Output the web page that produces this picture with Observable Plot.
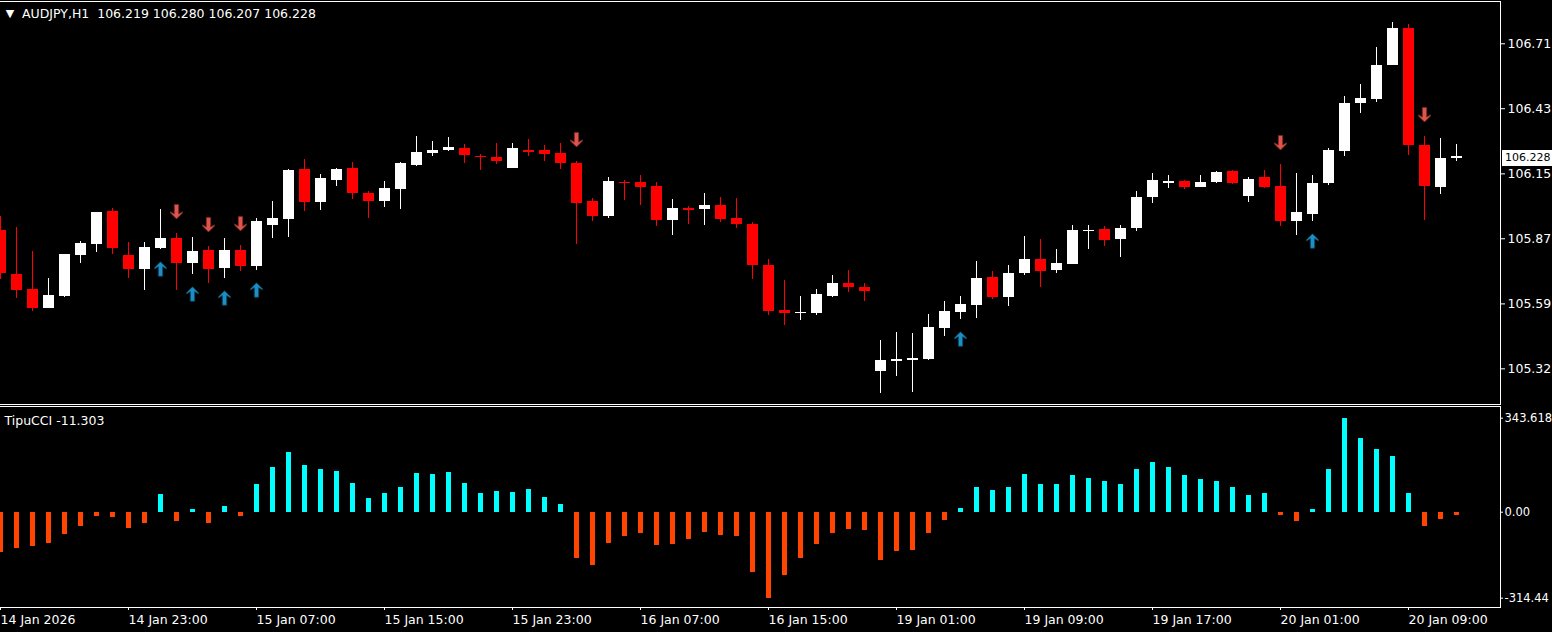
<!DOCTYPE html>
<html><head><meta charset="utf-8">
<script src="https://cdn.jsdelivr.net/npm/d3@7"></script>
<script src="https://cdn.jsdelivr.net/npm/@observablehq/plot@0.6"></script>
<style>
html,body{margin:0;padding:0;background:#000;overflow:hidden;}
#wrap{position:relative;width:1552px;height:632px;}
#wrap svg{display:block;}
#price{position:absolute;left:1502px;width:50px;height:16px;background:#fff;color:#000;font:11px "DejaVu Sans";line-height:16px;padding-left:3px;box-sizing:border-box;white-space:nowrap;overflow:hidden;}
</style></head><body><div id="wrap"></div>
<script>
const symbolName = "AUDJPY,H1";
const indicatorName = "TipuCCI";
const xLabels = ["14 Jan 2026","14 Jan 23:00","15 Jan 07:00","15 Jan 15:00","15 Jan 23:00","16 Jan 07:00","16 Jan 15:00","19 Jan 01:00","19 Jan 09:00","19 Jan 17:00","20 Jan 01:00","20 Jan 09:00"];
const open = [105.912,105.724,105.660,105.580,105.631,105.807,105.854,105.994,105.805,105.747,
105.837,105.878,105.772,105.827,105.751,105.827,105.760,105.934,105.961,106.174,
106.034,106.127,106.178,106.071,106.038,106.089,106.192,106.243,106.256,106.264,
106.231,106.225,106.179,106.255,106.255,106.242,106.199,106.037,105.974,106.118,
106.118,106.101,105.957,106.007,106.004,106.020,105.964,105.938,105.762,105.570,
105.558,105.558,105.631,105.685,105.668,105.310,105.353,105.357,105.361,105.494,
105.562,105.593,105.711,105.627,105.730,105.788,105.742,105.768,105.908,105.917,
105.875,105.922,106.055,106.115,106.122,106.098,106.119,106.165,106.059,106.139,
106.101,105.952,105.982,106.115,106.252,106.458,106.475,106.620,106.778,106.276,
106.098,106.219];
const high = [105.972,105.925,105.822,105.707,105.810,105.865,105.990,106.007,105.861,105.861,
106.002,105.900,105.882,105.844,105.878,105.848,105.964,106.037,106.174,106.217,
106.152,106.178,106.204,106.079,106.122,106.204,106.315,106.294,106.311,106.281,
106.239,106.285,106.285,106.302,106.276,106.285,106.208,106.050,106.139,106.127,
106.148,106.118,106.045,106.015,106.071,106.054,106.050,105.947,105.788,105.698,
105.630,105.660,105.720,105.741,105.685,105.441,105.476,105.471,105.553,105.608,
105.630,105.780,105.737,105.762,105.887,105.874,105.831,105.934,105.934,105.930,
105.934,106.079,106.156,106.148,106.127,106.148,106.165,106.169,106.139,106.169,
106.195,106.156,106.148,106.264,106.486,106.538,106.696,106.803,106.795,106.315,
106.306,106.280];
const low = [105.701,105.622,105.567,105.578,105.627,105.772,105.819,105.811,105.708,105.657,
105.832,105.657,105.725,105.687,105.708,105.738,105.742,105.879,105.884,105.995,
105.999,106.102,106.046,105.965,106.012,106.004,106.188,106.231,106.252,106.201,
106.171,106.196,106.179,106.231,106.209,106.175,105.854,105.952,105.965,106.042,
106.021,105.931,105.892,105.939,105.935,105.948,105.922,105.704,105.550,105.507,
105.528,105.550,105.627,105.648,105.610,105.213,105.288,105.220,105.357,105.460,
105.532,105.537,105.618,105.588,105.721,105.670,105.730,105.768,105.832,105.845,
105.798,105.909,106.029,106.094,106.089,106.098,106.115,106.109,106.034,106.094,
105.931,105.892,105.952,106.106,106.231,106.415,106.462,106.620,106.235,105.957,
106.068,106.207];
const close = [105.730,105.657,105.580,105.634,105.810,105.857,105.990,105.837,105.747,105.840,
105.878,105.772,105.822,105.747,105.827,105.760,105.951,105.964,106.169,106.034,
106.135,106.174,106.072,106.038,106.092,106.199,106.246,106.255,106.268,106.235,
106.226,106.209,106.264,106.248,106.239,106.201,106.029,105.974,106.122,106.114,
106.098,105.957,106.007,105.999,106.020,105.961,105.939,105.764,105.567,105.558,
105.562,105.638,105.685,105.670,105.652,105.356,105.360,105.364,105.497,105.565,
105.595,105.707,105.627,105.728,105.788,105.738,105.771,105.912,105.912,105.871,
105.921,106.054,106.127,106.124,106.098,106.118,106.161,106.115,106.131,106.098,
105.952,105.990,106.114,106.255,106.456,106.478,106.619,106.778,106.278,106.102,
106.221,106.228];
const cci = [-148.6,-134,-127,-116,-83,-54,-17,-21,-61,-43,
66,-35,11,-40,19.5,-17,100,162,220,172,
155,150,104,49,67,89,140,136,144,104,
67,74,71,82,52,27,-171,-196,-116,-90,
-79,-123,-119,-101,-76,-87,-90,-222,-314.442,-233,
-171,-119,-79,-65,-68,-178,-145,-141,-79,-32,
15,89,78,89,136,100,100,133,122,111,
100,155,180,162,133,118,111,89,60,67,
-13,-35,11,155,343.618,270,228,202,67,-54,
-28,-11.303];
const arrowUp = [10,12,14,16,60,82];
const arrowDown = [11,13,15,36,80,89];
const priceTicks = [106.712,106.434,106.155,105.877,105.598,105.320];
const cciTicks = [343.618,0,-314.442];
const cciTickLabels = ["343.618","0.00","-314.44"];

const candles = open.map((o,i)=>({i, open:o, high:high[i], low:low[i], close:close[i], col: close[i] >= o ? "#ffffff" : "#ff0000"}));
const bars = cci.map((v,i)=>({i, v, col: v >= 0 ? "#00ffff" : "#ff4500"}));
const labelTicks = xLabels.map((_,k)=>k*8);
const last = open.length - 1;

function arrowPath(c, s) {
  const pts = [[0,-7.5],[6,-1.5],[6,-0.3],[2.2,-2.6],[2.2,7],[-2.2,7],[-2.2,-2.6],[-6,-0.3],[-6,-1.5]];
  pts.forEach(([x,y],k)=> k ? c.lineTo(x, s*y) : c.moveTo(x, s*y));
  c.closePath();
}
const upSym = {draw(c){arrowPath(c, 1);}};
const downSym = {draw(c){arrowPath(c, -1);}};

const font = "DejaVu Sans";
const st = {background:"#000", color:"#fff", fontFamily:font, fontSize:"12.5px"};
const xDom = [0, 93.75];

const main = Plot.plot({
  width:1552, height:406, marginLeft:0, marginRight:52, marginTop:0, marginBottom:0,
  style: st,
  x:{domain:xDom, axis:null},
  y:{domain:[105.1587,106.8974], axis:null},
  color:{type:"identity"},
  marks:[
    Plot.frame({stroke:"#fff", insetTop:1, insetBottom:2, insetLeft:-3}),
    Plot.axisY(priceTicks, {anchor:"right", tickSize:4, tickPadding:3, label:null, tickFormat:d=>d.toFixed(3).slice(0,-1)}),
    Plot.ruleX(candles, {x:"i", y1:"low", y2:"high", stroke:"col", strokeWidth:1, shapeRendering:"crispEdges"}),
    Plot.ruleX(candles, {x:"i", y1:"open", y2:"close", stroke:"col", strokeWidth:11, shapeRendering:"crispEdges"}),
    Plot.dot(arrowUp, {x:d=>d, y:d=>low[d], symbol:upSym, r:5, fill:"#1c90c4", stroke:"#0b4058", strokeWidth:0.8, dy:20}),
    Plot.dot(arrowDown, {x:d=>d, y:d=>high[d], symbol:downSym, r:5, fill:"#df554c", stroke:"#6e2622", strokeWidth:0.8, dy:-22}),
    Plot.text(["\u25BC"], {frameAnchor:"top-left", dx:9.5, dy:12.5, fontSize:11, textAnchor:"middle", lineAnchor:"middle", fill:"#fff"}),
    Plot.text([`${symbolName}  ${open[last].toFixed(3)} ${high[last].toFixed(3)} ${low[last].toFixed(3)} ${close[last].toFixed(3)}`],
      {frameAnchor:"top-left", dx:21.5, dy:13.3, textAnchor:"start", lineAnchor:"middle", fill:"#fff"})
  ]
});

const lower = Plot.plot({
  width:1552, height:226, marginLeft:0, marginRight:52, marginTop:0, marginBottom:25,
  style: st,
  x:{domain:xDom, axis:null},
  y:{domain:[-348.44,386.39], axis:null},
  color:{type:"identity"},
  marks:[
    Plot.frame({stroke:"#fff", insetLeft:-3}),
    Plot.ruleX(bars, {x:"i", y1:0, y2:"v", stroke:"col", strokeWidth:5, shapeRendering:"crispEdges"}),
    Plot.axisY(cciTicks, {anchor:"right", tickSize:2, tickPadding:2, label:null, fontSize:11.5, tickFormat:d=>cciTickLabels[cciTicks.indexOf(d)]}),
    Plot.axisX(labelTicks, {anchor:"bottom", tickSize:3, tickPadding:5, label:null, textAnchor:"start", tickFormat:d=>xLabels[labelTicks.indexOf(d)]}),
    Plot.text([`${indicatorName} ${cci[last].toFixed(3)}`], {frameAnchor:"top-left", dx:4, dy:14, textAnchor:"start", lineAnchor:"middle", fill:"#fff"})
  ]
});

const wrap = document.getElementById("wrap");
wrap.appendChild(main);
wrap.appendChild(lower);
const py = main.scale("y").apply(close[last]);
const box = document.createElement("div");
box.id = "price";
box.textContent = close[last].toFixed(3);
box.style.top = (py - 6.5) + "px";
wrap.appendChild(box);
</script>
</body></html>
